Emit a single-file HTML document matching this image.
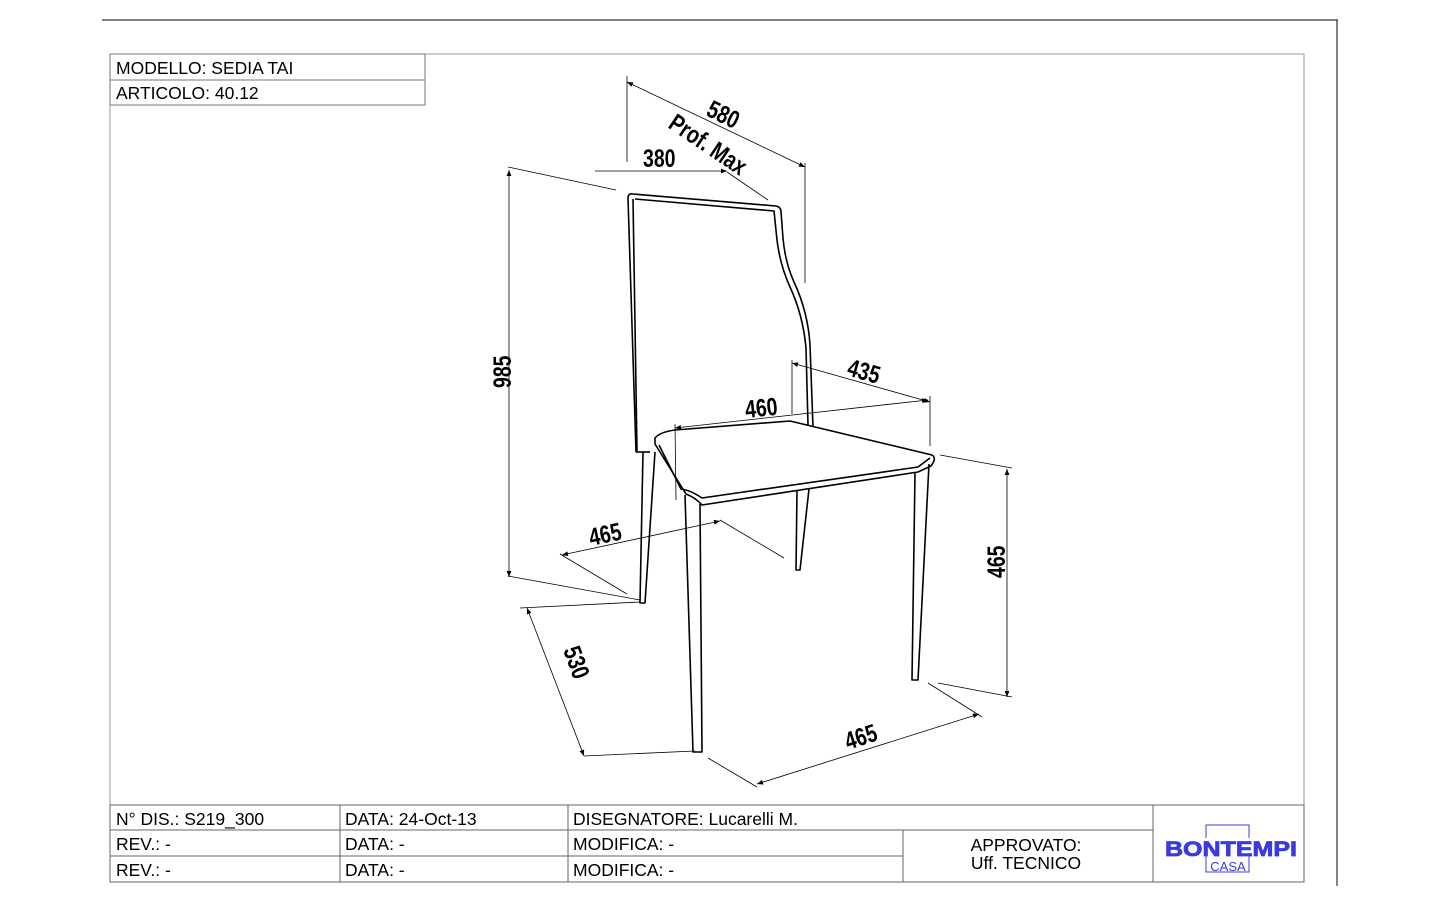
<!DOCTYPE html>
<html><head><meta charset="utf-8"><style>
html,body{margin:0;padding:0;background:#fff;}
body{width:1440px;height:900px;overflow:hidden;position:relative;font-family:"Liberation Sans",sans-serif;}
svg{position:absolute;left:0;top:0;}
.t{font-family:"Liberation Sans",sans-serif;font-size:17.5px;fill:#000;}
.d{font-family:"Liberation Sans",sans-serif;font-weight:bold;font-size:25px;fill:#000;}
</style></head><body>
<svg width="1440" height="900" viewBox="0 0 1440 900">
<defs>
<marker id="a" viewBox="0 0 10 10" refX="10" refY="5" markerWidth="12" markerHeight="6" orient="auto-start-reverse" markerUnits="userSpaceOnUse"><path d="M0,1 L10,5 L0,9 z" fill="#000"/></marker>
</defs>
<line x1="102" y1="20" x2="1338" y2="20" stroke="#333" stroke-width="1.2"/>
<line x1="1337" y1="20" x2="1337" y2="886" stroke="#333" stroke-width="1.2"/>
<rect x="110" y="54" width="1194" height="828" fill="none" stroke="#999" stroke-width="1"/>
<rect x="110" y="54" width="315" height="51" fill="none" stroke="#777"/>
<line x1="110" y1="80" x2="425" y2="80" stroke="#777"/>
<text class="t" x="116" y="74">MODELLO: SEDIA TAI</text>
<text class="t" x="116" y="99">ARTICOLO: 40.12</text>
<rect x="110" y="805" width="1194" height="77" fill="#fff" stroke="#666"/>
<line x1="110" y1="830" x2="903" y2="830" stroke="#666"/>
<line x1="110" y1="856" x2="903" y2="856" stroke="#666"/>
<line x1="903" y1="830" x2="1153" y2="830" stroke="#666"/>
<line x1="340" y1="805" x2="340" y2="882" stroke="#666"/>
<line x1="568" y1="805" x2="568" y2="882" stroke="#666"/>
<line x1="903" y1="830" x2="903" y2="882" stroke="#666"/>
<line x1="1153" y1="805" x2="1153" y2="882" stroke="#666"/>
<text class="t" x="116" y="825">N° DIS.: S219_300</text>
<text class="t" x="345" y="825">DATA: 24-Oct-13</text>
<text class="t" x="573" y="825">DISEGNATORE: Lucarelli M.</text>
<text class="t" x="116" y="850">REV.: -</text>
<text class="t" x="345" y="850">DATA: -</text>
<text class="t" x="573" y="850">MODIFICA: -</text>
<text class="t" x="116" y="876">REV.: -</text>
<text class="t" x="345" y="876">DATA: -</text>
<text class="t" x="573" y="876">MODIFICA: -</text>
<text class="t" x="1026" y="851" text-anchor="middle">APPROVATO:</text>
<text class="t" x="1026" y="869" text-anchor="middle">Uff. TECNICO</text>
<rect x="1206" y="825" width="43" height="47" fill="none" stroke="#3c3cd8" stroke-width="1"/>
<rect x="1164" y="838" width="135" height="17" fill="#fff"/>
<text x="1231" y="856" text-anchor="middle" font-family="Liberation Sans" font-weight="bold" font-size="21" fill="#3a3ae0" stroke="#3a3ae0" stroke-width="0.8" textLength="132" lengthAdjust="spacingAndGlyphs">BONTEMPI</text>
<text x="1228" y="871" text-anchor="middle" font-family="Liberation Sans" font-size="13" fill="#3a3ae0">CASA</text>

<g fill="none" stroke="#000" stroke-width="1.6" stroke-linejoin="round">
<path d="M636,452 L628,198 Q628,193 633,194 L776,206 Q781,207 781,212 L783,238 Q785,262 794,282 Q808,312 810,345 L813,427"/>
<path d="M633,199 L637,451"/>
<path d="M635,199 L774,211 L777,240 Q780,265 790,287 Q803,315 806,348 L808,425"/>
<line x1="636" y1="452" x2="650" y2="452"/>
<path d="M655,438 Q660,432 675,430 L790,421 L932,455 Q937,458 931,466 L918,472 L702,505 Q696,498 686,494 L655,444 Z"/>
<path d="M659,445 L681,489 Q690,490 702,498 L918,467 L930,458"/>
<path d="M643,452 L640,603 L645,603 L655,452"/>
<path d="M685,495 L693,752 L702,752 L700,504"/>
<path d="M797,491 L796,570 L800,570 L809,489"/>
<path d="M915,473 L912,680 L918,680 L929,464"/>
</g>

<g stroke="#000" stroke-width="0.8" fill="none">
<line x1="509" y1="170" x2="509" y2="577" marker-start="url(#a)" marker-end="url(#a)"/>
<line x1="508" y1="167" x2="616" y2="190"/>
<line x1="508" y1="576" x2="640" y2="600"/>
<line x1="595" y1="171" x2="727" y2="171" marker-end="url(#a)"/>
<line x1="727" y1="172" x2="768" y2="200"/>
<line x1="627" y1="82" x2="805" y2="167" marker-start="url(#a)" marker-end="url(#a)"/>
<line x1="627" y1="76" x2="627" y2="162"/>
<line x1="805" y1="163" x2="805" y2="283"/>
<line x1="792" y1="363" x2="930" y2="402" marker-start="url(#a)" marker-end="url(#a)"/>
<line x1="792" y1="360" x2="792" y2="414"/>
<line x1="930" y1="396" x2="930" y2="446"/>
<line x1="675" y1="428" x2="928" y2="400" marker-start="url(#a)" marker-end="url(#a)"/>
<line x1="675" y1="424" x2="676" y2="500"/>
<line x1="1007" y1="469" x2="1007" y2="697" marker-start="url(#a)" marker-end="url(#a)"/>
<line x1="940" y1="455" x2="1012" y2="468"/>
<line x1="938" y1="683" x2="1012" y2="697"/>
<line x1="757" y1="784" x2="979" y2="714" marker-start="url(#a)" marker-end="url(#a)"/>
<line x1="708" y1="758" x2="757" y2="787"/>
<line x1="928" y1="683" x2="982" y2="717"/>
<line x1="527" y1="608" x2="584" y2="756" marker-start="url(#a)" marker-end="url(#a)"/>
<line x1="520" y1="608" x2="640" y2="602"/>
<line x1="584" y1="756" x2="695" y2="751"/>
<line x1="562" y1="555" x2="720" y2="521" marker-start="url(#a)" marker-end="url(#a)"/>
<line x1="560" y1="554" x2="627" y2="594"/>
<line x1="720" y1="520" x2="784" y2="558"/>
</g>

<g class="d">
<text class="d" transform="translate(705,115) rotate(26) scale(0.78,1)">580</text>
<text class="d" transform="translate(667,127) rotate(34) scale(0.78,1)">Prof. Max</text>
<text class="d" transform="translate(643,167) scale(0.78,1)">380</text>
<text class="d" transform="translate(846,375) rotate(16) scale(0.78,1)">435</text>
<text class="d" transform="translate(746,418) rotate(-6) scale(0.78,1)">460</text>
<text class="d" transform="translate(511,388) rotate(-90) scale(0.78,1)">985</text>
<text class="d" transform="translate(1005,578) rotate(-90) scale(0.78,1)">465</text>
<text class="d" transform="translate(591,546) rotate(-12) scale(0.78,1)">465</text>
<text class="d" transform="translate(563,650) rotate(70) scale(0.78,1)">530</text>
<text class="d" transform="translate(848,750) rotate(-18) scale(0.78,1)">465</text>
</g>
</svg>
</body></html>
